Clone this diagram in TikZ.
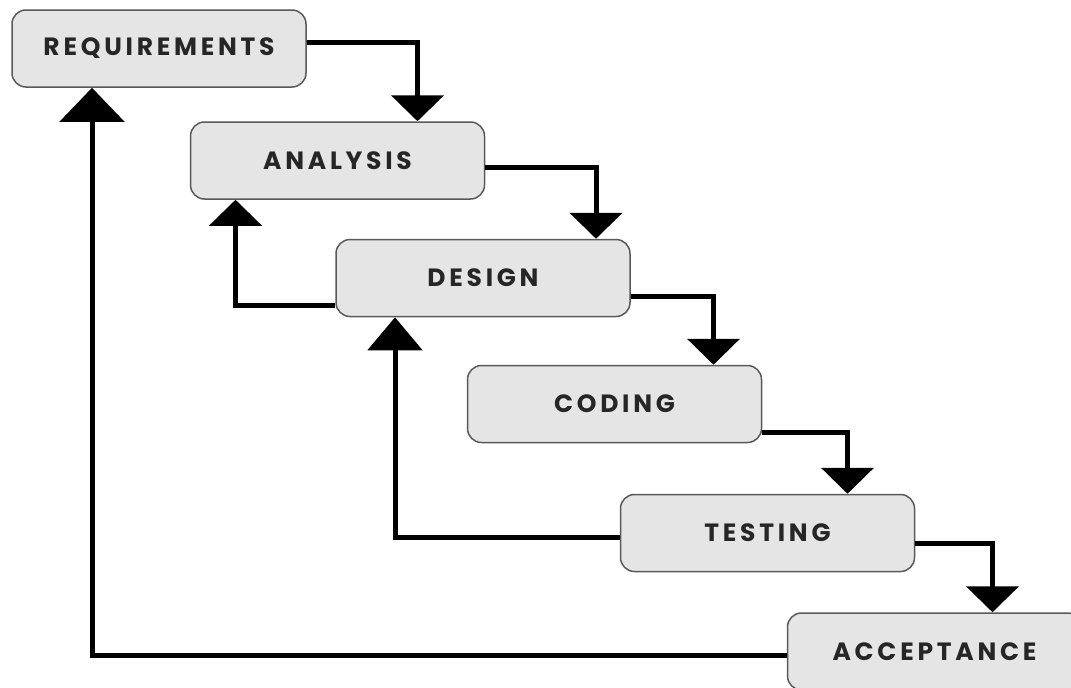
\documentclass[tikz,border=0pt]{standalone}
\usepackage{fontspec}
\newfontfamily\phasefont[LetterSpace=15]{Poppins}
\usetikzlibrary{arrows.meta, positioning}

\begin{document}
\begin{tikzpicture}[x=1pt, y=-1pt,
    phase/.style={draw=black!65, fill=black!10, line width=1.5pt, rounded corners=14pt,
        minimum width=294pt, minimum height=77pt, text=black!85,
        font=\phasefont\bfseries\fontsize{25}{30}\selectfont},
    flow/.style={line width=5pt, -{Triangle[width=52pt, length=26pt]}},
    back/.style={line width=5pt, -{Triangle[width=54pt, length=33pt]}}]
    \useasboundingbox (0,0) rectangle (1071,688);

    % Define the phase boxes
    \node[phase] (req) at (159, 48.5) {REQUIREMENTS};
    \node[phase] (ana) at (337.5, 160.5) {ANALYSIS};
    \node[phase] (des) at (483, 278) {DESIGN};
    \node[phase] (cod) at (614.5, 404) {CODING};
    \node[phase] (tes) at (767.5, 533) {TESTING};
    \node[phase] (acc) at (934.5, 651.5) {ACCEPTANCE};

    % Down the steps
    \draw[flow] ([yshift=6pt]req.east) -| ([xshift=80pt]ana.north);
    \draw[flow] ([yshift=-7pt]ana.east) -| ([xshift=113pt]des.north);
    \draw[flow] ([yshift=-18pt]des.east) -| ([xshift=99pt]cod.north);
    \draw[flow] ([yshift=-28pt]cod.east) -| ([xshift=80pt]tes.north);
    \draw[flow] ([yshift=-10pt]tes.east) -| ([xshift=58pt]acc.north);

    % Feedback back up
    \draw[flow] ([yshift=-27pt]des.west) -| ([xshift=-102pt]ana.south);
    \draw[back] ([yshift=-4pt]tes.west) -| ([xshift=-88pt]des.south);
    \draw[back, -{Triangle[width=64pt, length=34pt]}] ([yshift=-4pt]acc.west) -| ([xshift=-67pt]req.south);
\end{tikzpicture}
\end{document}
